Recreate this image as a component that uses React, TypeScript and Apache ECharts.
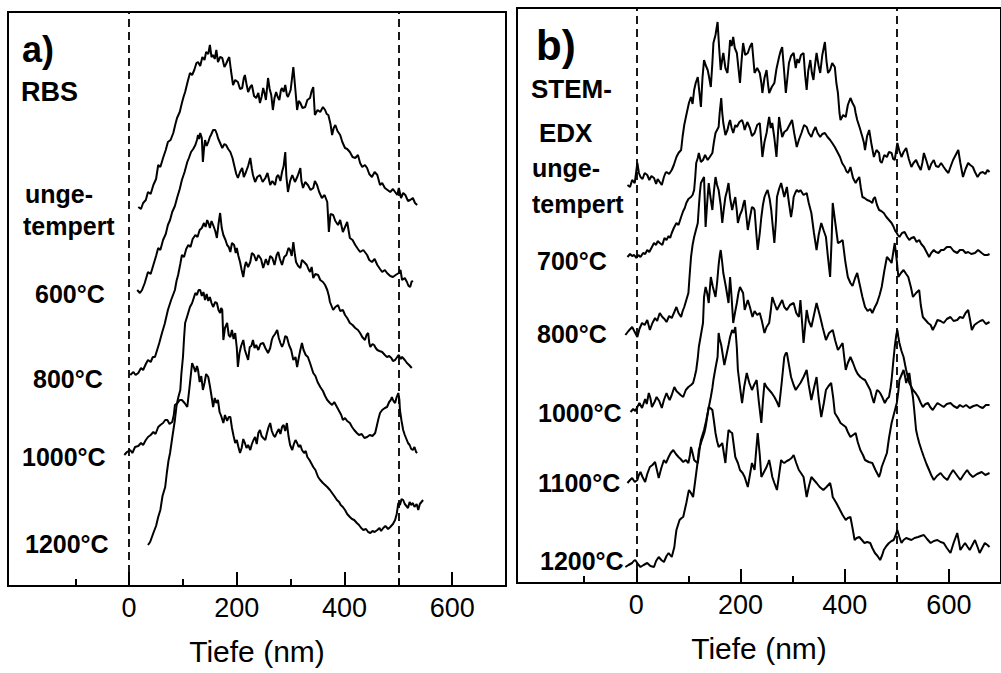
import React, { useEffect, useRef } from "react";
import * as echarts from "echarts";

// Depth axis (nm)
const depthTicks = [0, 200, 400, 600];
const minorDepthTicks = [-100, 100, 300, 500];
const interfaceDepths = [0, 500];
const depthRangeA = [-225, 700];
const depthRangeB = [-229, 700];
const axisTitle = "Tiefe (nm)";

// Panel titles / labels
const panelA = { tag: "a)", method: ["RBS"], labels: ["unge-", "tempert", "600°C", "800°C", "1000°C", "1200°C"] };
const panelB = { tag: "b)", method: ["STEM-", "EDX"], labels: ["unge-", "tempert", "700°C", "800°C", "1000°C", "1100°C", "1200°C"] };

// a) RBS profiles: [depth nm, intensity a.u. (vertically offset)]
const rbsUngetempert: number[][] = [[17,379],[22,377],[26,383],[31,386],[35,394],[40,392],[45,401],[50,407],[54,421],[58,419],[63,428],[68,436],[72,444],[77,446],[82,453],[86,462],[89,468],[94,474],[98,483],[101,489],[104,494],[109,505],[113,513],[117,511],[121,516],[125,523],[128,524],[132,520],[136,529],[140,526],[143,534],[147,532],[150,541],[153,529],[156,531],[159,527],[162,536],[165,524],[169,529],[173,528],[177,519],[180,522],[184,527],[186,529],[189,516],[193,501],[197,506],[202,504],[206,497],[210,498],[213,508],[215,511],[218,502],[221,494],[225,499],[228,501],[232,490],[236,488],[240,493],[243,483],[246,489],[249,498],[252,492],[254,486],[258,508],[261,497],[264,491],[267,476],[270,488],[273,494],[276,489],[279,486],[282,496],[284,498],[287,494],[290,501],[293,491],[295,489],[300,496],[305,519],[309,495],[312,476],[315,485],[318,483],[322,478],[327,479],[331,486],[336,488],[339,495],[342,499],[345,471],[350,476],[355,474],[360,479],[364,476],[367,472],[370,471],[374,462],[377,451],[380,458],[383,461],[387,455],[392,451],[396,444],[401,438],[405,437],[410,434],[415,429],[420,428],[425,431],[429,423],[433,419],[438,421],[442,418],[446,412],[451,409],[456,414],[461,411],[466,401],[470,403],[475,398],[480,396],[485,394],[490,397],[494,394],[498,391],[501,398],[505,388],[509,393],[513,391],[518,385],[522,386],[527,388],[531,383],[535,381]];
const rbs600: number[][] = [[15,296],[20,293],[24,296],[29,303],[35,314],[40,312],[45,321],[50,330],[54,338],[58,336],[63,346],[68,352],[72,361],[76,366],[80,374],[85,380],[89,388],[94,397],[98,406],[103,414],[108,424],[111,428],[115,434],[119,437],[123,441],[126,446],[128,451],[130,447],[132,453],[135,448],[137,424],[139,437],[141,446],[144,440],[147,444],[150,449],[152,451],[156,456],[160,456],[163,452],[165,448],[169,443],[173,438],[177,442],[180,441],[184,437],[188,434],[192,428],[195,421],[199,412],[202,408],[206,414],[210,418],[213,409],[217,414],[221,420],[225,428],[228,417],[230,411],[234,404],[238,409],[243,411],[248,404],[253,408],[257,413],[262,401],[266,405],[271,401],[274,409],[277,411],[281,405],[284,414],[287,420],[290,434],[292,410],[295,394],[299,405],[303,411],[308,404],[313,410],[318,418],[320,405],[323,398],[327,404],[332,401],[337,396],[342,398],[345,405],[349,401],[353,394],[358,388],[363,391],[368,384],[371,354],[374,372],[379,371],[383,365],[388,361],[392,366],[397,354],[401,359],[405,364],[410,348],[415,346],[420,341],[425,337],[429,334],[435,336],[442,331],[446,326],[451,324],[456,327],[461,321],[466,317],[470,314],[475,316],[479,313],[485,310],[490,309],[495,311],[501,313],[504,316],[507,306],[512,308],[516,304],[519,300],[522,299],[525,305],[527,304]];
const rbs800: number[][] = [[2,211],[8,214],[12,211],[17,213],[22,218],[26,216],[31,222],[35,226],[40,224],[44,229],[48,229],[52,236],[56,243],[61,253],[66,262],[72,276],[78,286],[85,296],[88,305],[91,311],[95,322],[98,331],[102,329],[106,337],[110,341],[114,339],[118,347],[123,351],[127,349],[131,356],[135,358],[139,363],[142,359],[145,366],[148,362],[150,358],[153,365],[156,361],[160,355],[163,348],[166,362],[169,373],[172,358],[175,351],[179,346],[182,341],[185,339],[188,334],[191,343],[195,341],[198,333],[200,338],[203,330],[206,324],[209,316],[212,309],[215,320],[217,324],[221,319],[225,324],[228,333],[232,331],[236,325],[240,331],[245,327],[249,318],[254,327],[258,321],[262,330],[266,328],[270,321],[274,331],[277,334],[280,327],[284,321],[288,329],[292,331],[296,338],[299,336],[302,330],[305,344],[308,331],[310,324],[314,320],[318,318],[321,326],[325,324],[330,321],[333,317],[336,314],[339,319],[342,308],[346,312],[351,311],[355,306],[360,304],[364,301],[368,296],[371,290],[373,284],[376,280],[379,276],[383,279],[388,281],[392,275],[397,276],[401,271],[405,268],[410,263],[415,261],[420,258],[425,256],[429,253],[433,249],[438,246],[441,251],[444,253],[446,243],[448,239],[452,242],[455,241],[458,238],[461,236],[465,235],[470,234],[475,231],[479,229],[483,230],[487,228],[490,225],[494,226],[498,229],[501,231],[504,227],[507,229],[512,226],[516,223],[520,221],[525,218]];
const rbs1000: number[][] = [[-9,131],[-4,134],[2,136],[6,133],[11,139],[17,140],[22,143],[26,141],[31,146],[35,149],[40,151],[45,154],[49,152],[54,159],[58,161],[63,163],[67,166],[71,166],[75,162],[80,164],[83,171],[85,181],[90,183],[94,186],[98,186],[103,183],[108,179],[112,198],[117,223],[120,219],[123,214],[126,220],[128,216],[131,204],[134,210],[137,196],[140,203],[143,212],[147,209],[150,200],[153,190],[156,179],[159,188],[162,183],[165,186],[168,174],[171,170],[175,163],[178,171],[182,165],[185,169],[188,169],[191,158],[194,150],[197,143],[200,146],[203,139],[206,133],[209,138],[212,147],[215,143],[218,138],[221,141],[225,136],[228,142],[231,146],[234,149],[237,142],[240,153],[243,156],[246,150],[249,148],[253,146],[256,153],[259,159],[262,163],[265,155],[268,151],[271,149],[274,153],[278,157],[281,152],[284,159],[287,161],[290,155],[293,163],[296,150],[299,141],[303,136],[306,142],[309,146],[312,143],[315,139],[318,141],[321,136],[325,133],[328,135],[331,129],[335,126],[338,123],[342,119],[346,116],[351,109],[355,106],[360,103],[364,101],[368,99],[373,96],[377,93],[381,90],[386,86],[390,84],[393,81],[397,79],[401,76],[405,72],[410,69],[414,67],[418,66],[423,63],[427,61],[431,58],[435,56],[440,57],[444,54],[448,53],[452,55],[456,54],[461,56],[465,58],[468,55],[472,58],[476,60],[481,57],[485,59],[490,62],[494,66],[497,72],[500,83],[503,81],[506,87],[509,86],[512,82],[515,80],[518,78],[521,84],[524,81],[527,83],[530,79],[534,82],[537,76],[540,82],[543,84],[546,86]];
const rbs1200: number[][] = [[35,41],[39,44],[45,53],[50,60],[54,69],[58,76],[62,90],[67,99],[70,113],[73,125],[76,133],[80,148],[85,166],[88,180],[91,188],[95,196],[97,212],[100,229],[102,248],[104,263],[108,270],[113,279],[117,283],[120,288],[123,293],[126,291],[129,296],[132,296],[135,290],[138,294],[141,286],[144,292],[147,285],[150,289],[153,283],[156,279],[160,284],[163,283],[166,276],[169,273],[171,278],[173,276],[175,246],[178,258],[182,263],[185,251],[188,249],[191,256],[194,247],[197,253],[200,238],[202,219],[205,233],[208,240],[212,246],[215,236],[218,231],[221,226],[224,239],[227,240],[230,246],[233,238],[236,241],[240,236],[244,242],[249,243],[253,238],[258,233],[262,238],[265,246],[267,249],[271,252],[275,256],[278,248],[281,243],[284,239],[287,243],[290,250],[293,249],[297,241],[301,236],[305,226],[309,229],[312,219],[315,228],[318,236],[321,243],[324,236],[328,231],[332,229],[336,223],[339,218],[342,213],[346,210],[350,204],[355,199],[360,195],[364,190],[368,186],[373,183],[377,181],[381,184],[386,179],[390,175],[394,171],[397,166],[401,168],[405,165],[410,163],[414,159],[418,156],[423,153],[427,151],[432,152],[437,148],[442,149],[447,151],[452,150],[457,153],[460,160],[463,167],[466,173],[470,176],[475,178],[479,179],[483,184],[486,186],[488,189],[491,185],[494,183],[497,189],[500,193],[502,186],[503,176],[506,165],[509,156],[512,151],[515,147],[518,143],[521,141],[524,137],[527,136],[530,139],[533,134],[535,133]];

// b) STEM-EDX profiles
const edxUngetempert: number[][] = [[-17,398],[-12,396],[-8,403],[-3,400],[2,420],[5,410],[8,406],[12,404],[16,410],[21,408],[25,403],[29,407],[34,405],[38,399],[41,404],[45,401],[49,398],[53,406],[56,410],[58,411],[63,409],[68,413],[72,418],[77,426],[81,430],[86,433],[89,447],[92,458],[96,468],[101,480],[105,486],[108,479],[111,493],[114,500],[118,506],[121,491],[124,476],[127,505],[130,523],[133,518],[137,513],[140,505],[143,496],[146,520],[148,540],[152,548],[156,561],[159,535],[162,513],[165,524],[167,530],[171,515],[175,510],[178,528],[180,543],[183,537],[186,546],[189,535],[193,530],[196,515],[199,500],[202,522],[205,540],[209,528],[214,530],[218,536],[222,540],[225,522],[227,510],[232,515],[237,510],[240,500],[242,490],[246,505],[250,513],[253,498],[255,490],[260,496],[265,500],[269,514],[274,526],[277,532],[280,536],[284,510],[287,490],[290,505],[293,520],[297,527],[302,530],[306,515],[309,524],[312,520],[316,528],[321,530],[324,508],[327,493],[330,512],[334,523],[337,510],[340,503],[343,518],[346,530],[350,517],[353,510],[357,528],[362,541],[365,522],[368,510],[372,513],[376,520],[381,516],[384,500],[387,490],[390,470],[392,463],[397,468],[402,466],[406,478],[411,485],[415,480],[419,476],[421,470],[424,463],[429,455],[434,446],[437,440],[439,433],[443,447],[447,453],[451,440],[456,426],[461,433],[466,430],[468,422],[471,420],[476,428],[481,426],[485,431],[490,430],[493,424],[496,423],[499,433],[501,440],[505,432],[509,426],[513,431],[518,435],[523,424],[528,416],[532,420],[537,423],[541,418],[546,413],[549,420],[552,430],[557,422],[562,413],[566,419],[571,423],[575,417],[580,416],[585,420],[590,416],[594,413],[599,410],[603,416],[608,423],[613,428],[618,433],[622,420],[627,406],[632,414],[637,420],[641,418],[646,416],[650,411],[655,406],[660,410],[665,411],[670,409],[674,413],[678,411]];
const edx700: number[][] = [[-17,326],[-12,329],[-8,327],[-4,328],[0,325],[4,328],[8,326],[13,330],[17,329],[21,333],[25,331],[30,336],[34,340],[38,338],[41,342],[45,340],[50,338],[54,345],[58,343],[62,347],[65,345],[68,350],[72,355],[77,360],[81,358],[86,366],[90,372],[93,375],[96,380],[100,384],[105,386],[108,388],[111,393],[113,405],[115,420],[118,425],[120,430],[124,421],[128,423],[132,428],[137,423],[141,426],[146,430],[149,441],[152,450],[155,453],[158,456],[160,470],[163,485],[165,470],[167,460],[171,448],[175,453],[178,460],[180,463],[183,455],[186,450],[190,458],[193,456],[198,461],[203,463],[206,458],[208,453],[213,461],[218,455],[222,447],[227,450],[232,458],[237,460],[240,440],[242,426],[246,441],[250,450],[253,460],[255,466],[258,455],[261,460],[265,445],[269,426],[272,450],[274,466],[277,455],[280,446],[284,451],[289,453],[294,458],[299,463],[303,450],[308,436],[312,443],[317,450],[322,458],[327,456],[331,450],[336,446],[340,452],[344,456],[348,450],[353,446],[357,449],[362,450],[367,446],[372,443],[376,440],[381,436],[386,431],[391,426],[395,420],[400,416],[403,412],[406,410],[409,413],[411,416],[416,405],[421,400],[424,403],[428,406],[431,395],[434,386],[438,385],[443,383],[448,382],[453,380],[455,384],[458,386],[462,378],[466,373],[470,372],[475,370],[480,366],[485,363],[490,360],[494,356],[497,352],[500,350],[502,348],[505,346],[510,350],[515,351],[520,346],[524,343],[528,345],[533,346],[538,341],[543,343],[547,339],[552,336],[557,331],[562,326],[566,330],[571,333],[575,331],[580,330],[585,333],[590,333],[596,336],[603,336],[609,332],[616,330],[621,333],[627,333],[632,330],[637,331],[643,329],[650,330],[656,333],[663,330],[668,328],[674,328],[678,329]];
const edx800: number[][] = [[-21,248],[-15,252],[-8,256],[-3,251],[2,246],[6,254],[11,260],[16,258],[21,263],[26,253],[31,260],[36,265],[40,262],[45,270],[50,266],[54,264],[58,261],[63,267],[68,265],[73,271],[77,276],[81,270],[86,266],[89,272],[92,276],[96,283],[100,290],[102,305],[105,326],[108,338],[111,346],[114,352],[118,360],[120,376],[122,390],[124,400],[127,403],[130,406],[133,356],[136,380],[139,400],[142,387],[146,373],[149,392],[152,406],[155,398],[158,393],[162,378],[165,360],[168,374],[171,386],[174,392],[177,400],[180,385],[184,373],[187,380],[190,386],[193,372],[195,360],[199,368],[203,373],[206,380],[208,383],[211,368],[214,353],[218,365],[222,376],[225,375],[227,373],[230,352],[233,333],[237,350],[240,366],[243,378],[246,386],[249,390],[252,393],[256,384],[259,373],[262,356],[265,340],[268,362],[270,386],[274,394],[278,400],[281,393],[284,386],[287,392],[289,396],[293,380],[297,366],[300,376],[302,386],[305,390],[308,393],[312,391],[315,393],[321,388],[327,390],[331,380],[336,370],[341,350],[346,333],[350,348],[355,360],[360,352],[364,346],[368,325],[372,306],[375,345],[377,380],[382,360],[387,340],[391,341],[396,343],[401,322],[406,306],[411,300],[415,297],[420,305],[424,310],[429,298],[434,286],[437,280],[439,276],[444,272],[449,274],[453,270],[458,276],[462,280],[467,288],[471,296],[476,312],[481,326],[486,323],[490,320],[493,330],[496,340],[500,322],[503,306],[508,310],[513,313],[518,309],[522,306],[527,296],[531,286],[537,290],[543,293],[546,278],[550,266],[555,263],[560,260],[565,258],[569,253],[574,258],[578,263],[584,262],[590,260],[596,264],[603,266],[609,262],[616,263],[621,266],[627,265],[632,270],[637,273],[641,262],[644,253],[649,258],[654,260],[660,262],[665,263],[671,259],[678,261]];
const edx1000: number[][] = [[-11,171],[-6,174],[-2,172],[2,176],[6,180],[11,175],[17,184],[20,179],[24,190],[27,185],[30,176],[35,181],[39,186],[44,182],[49,175],[53,183],[58,190],[61,186],[64,183],[68,188],[73,196],[77,192],[81,190],[85,188],[90,186],[95,193],[100,196],[105,198],[109,200],[112,206],[115,213],[118,225],[120,236],[124,248],[128,260],[130,286],[133,296],[136,290],[139,280],[141,293],[143,306],[147,296],[150,290],[152,286],[155,300],[158,318],[160,327],[162,333],[165,320],[167,310],[172,296],[177,280],[180,306],[183,285],[186,260],[190,272],[193,280],[196,290],[199,296],[202,293],[205,290],[208,273],[211,278],[214,283],[218,276],[223,266],[227,272],[232,268],[237,270],[241,262],[246,250],[250,256],[255,260],[258,272],[261,286],[265,280],[270,273],[275,278],[280,283],[284,276],[289,273],[295,278],[302,280],[307,270],[312,266],[315,283],[318,262],[321,240],[324,256],[327,273],[331,262],[336,256],[341,268],[346,280],[350,272],[353,266],[358,255],[364,243],[370,250],[377,253],[382,242],[387,233],[391,236],[396,240],[399,226],[402,213],[406,220],[411,226],[416,220],[421,213],[425,209],[430,206],[435,204],[439,203],[444,198],[449,193],[452,187],[456,180],[459,187],[462,193],[465,192],[468,190],[472,186],[477,180],[481,184],[485,186],[488,195],[490,203],[493,220],[496,236],[499,248],[501,253],[503,246],[505,240],[509,232],[513,226],[516,218],[518,213],[521,206],[524,200],[528,196],[531,193],[536,190],[541,186],[546,180],[550,176],[555,179],[560,180],[564,176],[569,173],[574,177],[578,180],[584,178],[590,176],[596,179],[603,180],[609,177],[616,175],[621,178],[627,176],[633,178],[640,175],[647,177],[654,178],[660,176],[665,175],[671,178],[678,178]];
const edx1100: number[][] = [[-17,100],[-12,103],[-8,105],[-3,101],[2,103],[5,108],[8,111],[12,106],[17,101],[21,109],[26,116],[31,118],[36,121],[40,112],[43,105],[48,115],[53,123],[57,120],[62,126],[66,130],[71,133],[76,129],[81,126],[85,124],[90,121],[95,123],[100,120],[103,128],[105,136],[108,130],[111,123],[115,121],[118,120],[121,132],[124,143],[127,148],[130,153],[134,162],[137,170],[140,178],[143,186],[146,195],[148,203],[152,215],[156,226],[158,250],[160,244],[163,238],[166,228],[169,218],[173,228],[177,238],[180,246],[184,253],[187,250],[190,256],[193,235],[195,213],[199,196],[203,180],[207,196],[212,210],[217,200],[222,193],[226,198],[231,203],[235,182],[240,160],[243,182],[246,200],[250,196],[255,193],[260,190],[265,186],[270,181],[274,176],[279,200],[284,226],[287,230],[289,230],[293,218],[297,206],[302,198],[306,193],[311,197],[315,200],[321,206],[327,213],[331,198],[336,183],[341,195],[346,206],[350,185],[355,166],[360,180],[364,193],[369,197],[374,200],[378,185],[381,170],[387,165],[392,160],[397,158],[402,156],[406,151],[411,146],[416,148],[421,150],[425,141],[430,133],[435,128],[439,123],[446,121],[453,120],[459,113],[466,106],[469,111],[471,116],[476,123],[481,130],[485,145],[490,160],[495,170],[500,180],[503,192],[505,203],[509,208],[513,213],[516,206],[518,200],[521,205],[524,210],[527,198],[531,186],[534,170],[537,153],[540,146],[543,140],[548,132],[552,126],[557,119],[562,113],[566,108],[571,103],[577,107],[584,110],[590,106],[597,103],[602,108],[608,113],[615,108],[622,103],[628,108],[635,113],[640,109],[646,106],[654,109],[663,111],[670,108],[678,110]];
const edx1200: number[][] = [[-21,16],[-15,18],[-8,20],[-5,22],[-2,23],[3,19],[8,16],[14,18],[21,20],[27,17],[34,16],[38,22],[43,26],[48,23],[53,21],[58,27],[62,30],[65,28],[68,26],[71,32],[73,36],[75,45],[77,53],[80,58],[83,63],[87,65],[90,66],[93,73],[96,80],[99,88],[101,93],[105,90],[109,86],[112,98],[115,110],[118,122],[120,133],[124,140],[128,146],[131,151],[133,156],[136,166],[139,176],[142,175],[146,173],[149,162],[152,150],[155,142],[158,136],[162,138],[165,140],[168,130],[171,120],[174,138],[177,153],[181,151],[184,150],[187,138],[190,126],[195,120],[199,113],[204,110],[208,106],[211,101],[214,96],[218,108],[222,120],[225,116],[227,113],[230,132],[233,150],[237,128],[240,106],[245,111],[250,116],[253,120],[255,123],[258,115],[261,106],[265,100],[270,93],[274,108],[278,123],[281,121],[284,120],[289,122],[293,123],[298,125],[302,128],[307,120],[312,113],[316,110],[321,106],[324,96],[327,86],[331,96],[336,106],[341,103],[346,100],[352,96],[359,93],[365,96],[372,100],[375,93],[377,86],[384,80],[391,73],[396,68],[402,63],[406,65],[411,66],[415,55],[419,43],[423,45],[428,46],[433,43],[438,40],[443,41],[449,40],[453,35],[458,30],[463,27],[468,23],[472,28],[475,33],[480,37],[485,40],[490,42],[494,43],[498,48],[501,53],[505,46],[509,40],[513,43],[518,45],[523,44],[528,43],[534,45],[541,46],[546,47],[552,48],[558,44],[565,40],[571,42],[578,43],[584,41],[590,40],[596,35],[603,30],[609,40],[616,50],[619,42],[622,33],[627,37],[631,40],[636,36],[640,33],[645,38],[650,43],[655,36],[659,30],[664,35],[669,40],[674,38],[678,36]];

const rbsSeries = [
  { name: "RBS ungetempert", data: rbsUngetempert },
  { name: "RBS 600°C", data: rbs600 },
  { name: "RBS 800°C", data: rbs800 },
  { name: "RBS 1000°C", data: rbs1000 },
  { name: "RBS 1200°C", data: rbs1200 },
];
const edxSeries = [
  { name: "EDX ungetempert", data: edxUngetempert },
  { name: "EDX 700°C", data: edx700 },
  { name: "EDX 800°C", data: edx800 },
  { name: "EDX 1000°C", data: edx1000 },
  { name: "EDX 1100°C", data: edx1100 },
  { name: "EDX 1200°C", data: edx1200 },
];

const FONT = '"Liberation Sans", Arial, Helvetica, sans-serif';

function App() {
  const ref = useRef<HTMLDivElement>(null);
  useEffect(() => {
    if (!ref.current) return;
    const chart = echarts.init(ref.current, null, { renderer: "svg" });

    const mainX = (gridIndex: number, range: number[]) => ({
      type: "value",
      gridIndex,
      position: "bottom",
      min: range[0],
      max: range[1],
      splitLine: { show: false },
      axisLine: { show: true, onZero: false, lineStyle: { color: "#000", width: 2 } },
      axisTick: { show: true, inside: true, length: 14, customValues: depthTicks, lineStyle: { color: "#000", width: 2 } },
      axisLabel: { show: true, customValues: depthTicks, color: "#000", fontSize: 27, fontFamily: FONT, margin: 8 },
      name: axisTitle,
      nameLocation: "middle",
      nameGap: 50,
      nameTextStyle: { color: "#000", fontSize: 30, fontFamily: FONT },
    });
    const minorX = (gridIndex: number, range: number[]) => ({
      type: "value",
      gridIndex,
      position: "bottom",
      offset: 0,
      min: range[0],
      max: range[1],
      splitLine: { show: false },
      axisLine: { show: false, onZero: false },
      axisTick: { show: true, inside: true, length: 7, customValues: minorDepthTicks, lineStyle: { color: "#000", width: 2 } },
      axisLabel: { show: false },
    });

    const lineSeries = (s: { name: string; data: number[][] }, xAxisIndex: number, yAxisIndex: number, withMarks: boolean) => ({
      type: "line",
      name: s.name,
      xAxisIndex,
      yAxisIndex,
      data: s.data,
      symbol: "none",
      showSymbol: false,
      lineStyle: { color: "#000", width: 2 },
      z: 3,
      markLine: withMarks
        ? {
            silent: true,
            symbol: ["none", "none"],
            label: { show: false },
            lineStyle: { color: "#000", width: 1.8, type: [8, 5] },
            data: interfaceDepths.map((d) => ({ xAxis: d })),
          }
        : undefined,
    });

    const txt = (text: string, x: number, y: number, size: number) => ({
      type: "text",
      x,
      y,
      style: { text, font: `bold ${size}px ${FONT}`, fill: "#000", align: "left", verticalAlign: "middle" },
    });

    const labelPosA = [[25, 194], [23, 226], [35, 294], [33, 379], [22, 457], [25, 544]];
    const labelPosB = [[532, 168], [532, 204], [537, 261], [537, 334], [538, 413], [538, 483], [540, 561]];

    const graphic: any[] = [
      txt(panelA.tag, 22, 49, 36),
      txt(panelA.method[0], 21, 92, 27),
      ...panelA.labels.map((l, i) => txt(l, labelPosA[i][0], labelPosA[i][1], 25)),
      txt(panelB.tag, 536, 45, 42),
      txt(panelB.method[0], 531, 89, 26),
      txt(panelB.method[1], 539, 133, 26),
      ...panelB.labels.map((l, i) => txt(l, labelPosB[i][0], labelPosB[i][1], 25)),
    ];

    chart.setOption({
      animation: false,
      backgroundColor: "#fff",
      grid: [
        { left: 8, top: 12, width: 498, height: 574, show: true, borderColor: "#000", borderWidth: 2, backgroundColor: "transparent" },
        { left: 517, top: 8, width: 495, height: 575, show: true, borderColor: "#000", borderWidth: 2, backgroundColor: "transparent" },
      ],
      xAxis: [mainX(0, depthRangeA), minorX(0, depthRangeA), mainX(1, depthRangeB), minorX(1, depthRangeB)],
      yAxis: [
        { type: "value", gridIndex: 0, min: 0, max: 574, show: false, splitLine: { show: false } },
        { type: "value", gridIndex: 1, min: 0, max: 575, show: false, splitLine: { show: false } },
      ],
      series: [
        ...rbsSeries.map((s, i) => lineSeries(s, 0, 0, i === 0)),
        ...edxSeries.map((s, i) => lineSeries(s, 2, 1, i === 0)),
      ],
      graphic,
    });
    return () => chart.dispose();
  }, []);
  return <div ref={ref} style={{ position: "fixed", left: 0, top: 0, width: 1001, height: 673, background: "#fff" }} />;
}

export default App;
